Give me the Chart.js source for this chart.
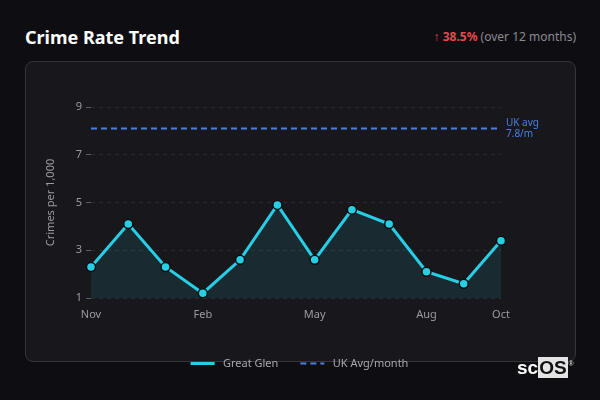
<!DOCTYPE html>
<html><head><meta charset="utf-8">
<script src="https://cdn.jsdelivr.net/npm/chart.js@4.4.1/dist/chart.umd.min.js"></script>
<style>
html,body{margin:0;padding:0;background:#0e0e12;width:600px;height:400px;overflow:hidden;font-family:"Noto Sans",sans-serif;}
#title{position:absolute;left:25px;top:25px;color:#fff;font-weight:bold;font-size:18px;}
#delta{position:absolute;right:24px;top:28px;font-size:12px;color:#8a8a8f;}
#delta b{color:#e5484d;}
#delta .ar{color:#e5484d;}
#card{position:absolute;left:25px;top:61px;width:549px;height:299px;border:1px solid #34343a;border-radius:8px;background:#18181c;}
#wrap{position:absolute;left:25px;top:61px;width:550px;height:318px;}
#logo{position:absolute;left:517px;top:357px;font-family:"Liberation Sans",Arial,sans-serif;font-weight:bold;font-size:19px;line-height:21px;color:#fff;}
#logo .os{background:#e4e4e4;color:#111;padding:0 1px;}
#logo sup{font-size:7px;position:absolute;top:-4px;right:-6px;color:#ccc;}
</style></head>
<body>
<div id="title">Crime Rate Trend</div>
<div id="delta"><span class="ar">↑</span> <b>38.5%</b> (over 12 months)</div>
<div id="card"></div>
<div id="wrap"><canvas id="c"></canvas></div>
<div id="logo">sc<span class="os">OS</span><sup>®</sup></div>
<script>
const months = ["Nov","Dec","Jan","Feb","Mar","Apr","May","Jun","Jul","Aug","Sep","Oct"];
const shownLabels = ["Nov","Feb","May","Aug","Oct"];
const greatGlen = [2.3,4.1,2.3,1.2,2.6,4.9,2.6,4.7,4.1,2.1,1.6,3.4];
const ukAvg = [8.1,8.1,8.1,8.1,8.1,8.1,8.1,8.1,8.1,8.1,8.1,8.1];
const ukAvgNote = ["UK avg","7.8/m"];

const noteLabel = {
  id:'noteLabel',
  afterLayout(chart){
    // centre the legend on the card rather than on the padded chart box
    chart.legend.left += 29; chart.legend.right += 29;
  },
  afterDatasetsDraw(chart){
    const {ctx, chartArea, scales} = chart;
    const y = scales.y.getPixelForValue(ukAvg[0]);
    ctx.save();
    ctx.fillStyle = '#4a7fe0';
    ctx.font = '10px "Noto Sans"';
    ctx.textBaseline = 'middle';
    ctx.textAlign = 'left';
    ctx.fillText(ukAvgNote[0], chartArea.right + 5, y - 5);
    ctx.fillText(ukAvgNote[1], chartArea.right + 5, y + 6);
    ctx.restore();
  }
};

Chart.defaults.font.family = '"Noto Sans", sans-serif';
new Chart(document.getElementById('c'), {
  type:'line',
  data:{
    labels: months,
    datasets:[
      {label:'Great Glen', data:greatGlen, borderColor:'#26cfe6', borderWidth:3,
       backgroundColor:'rgba(38,207,230,0.10)', fill:'start', tension:0,
       pointRadius:4.5, pointBackgroundColor:'#26cfe6', pointBorderColor:'#0d0d10', pointBorderWidth:1.5},
      {label:'UK Avg/month', data:ukAvg, borderColor:'#4a80e0', borderWidth:2, borderDash:[6,4],
       pointRadius:0, fill:false, backgroundColor:'#4a80e0'}
    ]
  },
  options:{
    responsive:true, maintainAspectRatio:false, animation:false,
    layout:{padding:{left:15,right:74,top:46,bottom:0}},
    plugins:{
      legend:{position:'bottom',
        labels:{color:'#a8a8ad', font:{size:11}, usePointStyle:true, pointStyle:'line', pointStyleWidth:24, boxHeight:8, padding:22,
          generateLabels(chart){
            return chart.data.datasets.map((ds,i)=>({
              text: ' ' + ds.label, fillStyle: ds.borderColor, strokeStyle: ds.borderColor,
              lineWidth: ds.borderWidth, lineDash: ds.borderDash || [], pointStyle:'line',
              fontColor:'#a8a8ad', hidden:false, datasetIndex:i
            }));
          }}},
      tooltip:{enabled:false}
    },
    scales:{
      x:{offset:false,
        grid:{display:false, drawTicks:false},
        border:{display:false},
        ticks:{autoSkip:false, maxRotation:0, color:'#9a9aa0', font:{size:11}, padding:10,
          callback:function(v,i){ const l = this.getLabelForValue(v); return shownLabels.includes(l) ? l : ''; }},
        afterFit(s){ s.height = 38; }
      },
      y:{min:1, max:9,
        title:{display:true, text:'Crimes per 1,000', color:'#9a9aa0', font:{size:11}},
        grid:{color:'#2a2a30', tickColor:'#5a5a60', tickLength:5, lineWidth:1},
        border:{display:false, dash:[4,4]},
        ticks:{stepSize:2, color:'#9a9aa0', font:{size:11}, padding:4},
        afterFit(s){ s.width = 51; }
      }
    }
  },
  plugins:[noteLabel]
});
</script>
</body></html>
